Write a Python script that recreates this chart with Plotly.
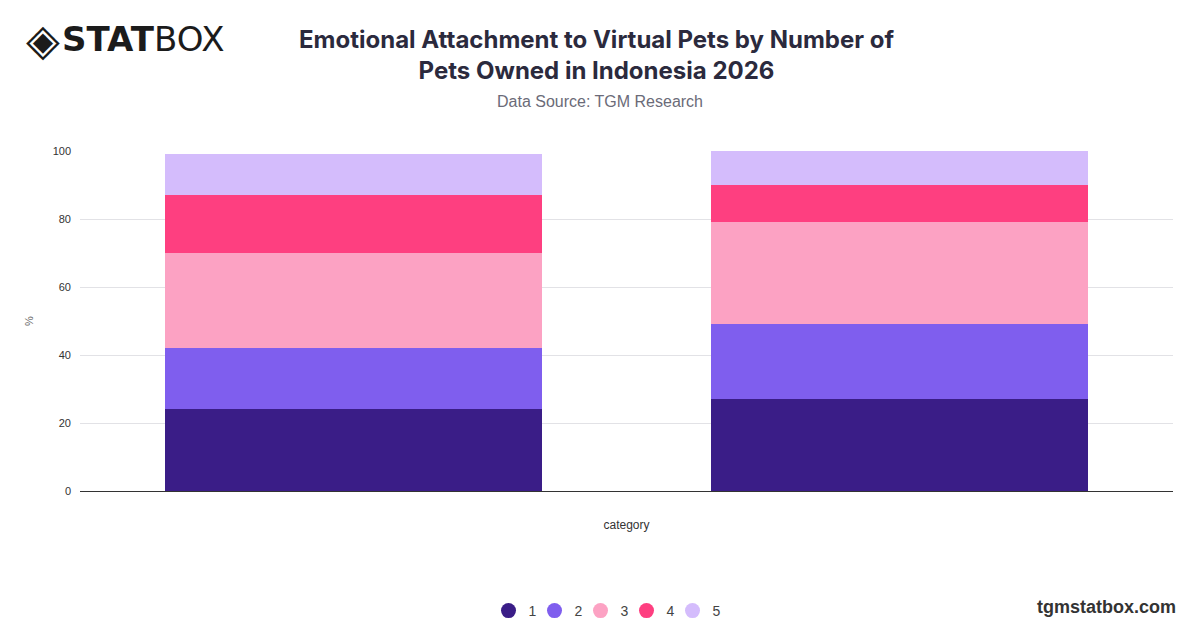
import plotly.graph_objects as go

# data
categories = ["1 pet", "2+ pets"]
levels = ["1", "2", "3", "4", "5"]
share_level1 = [24, 27]
share_level2 = [18, 22]
share_level3 = [28, 30]
share_level4 = [17, 11]
share_level5 = [12, 10]
y_ticks = [0, 20, 40, 60, 80, 100]

series = [share_level1, share_level2, share_level3, share_level4, share_level5]
COLORS = ["#3a1d87", "#7f5eee", "#fca2c3", "#fe3f80", "#d4bcfc"]
TEXT = "#2b2a3d"
SUBTEXT = "#6b6b78"
GRID = "#e2e2e6"

fig = go.Figure()

for name, vals, color in zip(levels, series, COLORS):
    fig.add_trace(go.Bar(
        x=categories, y=vals, name=name,
        marker=dict(color=color, line=dict(width=0)),
        showlegend=False,
        hovertemplate="%{x}<br>" + name + ": %{y}%<extra></extra>",
    ))

# round legend markers
for name, color in zip(levels, COLORS):
    fig.add_trace(go.Scatter(
        x=[None], y=[None], mode="markers", name=name,
        marker=dict(symbol="circle", size=15, color=color),
        hoverinfo="skip",
    ))
# blank spacer entry so the last label isn't clipped by the tight entry width
fig.add_trace(go.Scatter(
    x=[None], y=[None], mode="markers", name=" ",
    marker=dict(size=1, color="rgba(0,0,0,0)", line=dict(width=0)),
    hoverinfo="skip",
))

fig.update_layout(
    barmode="stack",
    bargap=0.31,
    width=1200, height=628,
    paper_bgcolor="white",
    plot_bgcolor="white",
    font=dict(family="Liberation Sans, Arial, sans-serif", color="#333333", size=11),
    margin=dict(t=143, b=145, l=72, r=35, autoexpand=False),
    legend=dict(
        orientation="h", x=0.5, xanchor="center", y=-0.353, yanchor="middle",
        font=dict(size=14, color="#444444"),
        itemwidth=30, traceorder="normal",
        entrywidth=1, entrywidthmode="pixels",
        itemclick=False, itemdoubleclick=False,
    ),
    xaxis=dict(
        title=dict(text="category", font=dict(size=12, color="#333333"), standoff=29),
        showticklabels=False, showgrid=False,
        showline=True, linecolor="#333333", linewidth=1,
        ticks="",
    ),
    yaxis=dict(
        title=dict(text="%", font=dict(size=11, color="#666666"), standoff=16),
        range=[0, 100], tickvals=y_ticks,
        gridcolor=GRID, gridwidth=1, zeroline=False,
        tickfont=dict(size=11, color="#333333"),
        ticks="", ticklen=0, ticklabelstandoff=8,
    ),
)

fig.add_annotation(
    text="<b>Emotional Attachment to Virtual Pets by Number of<br>Pets Owned in Indonesia 2026</b>",
    xref="paper", yref="paper", x=0.5, y=1.0, xanchor="center", yanchor="bottom",
    xshift=-30, yshift=64,
    showarrow=False, align="center",
    font=dict(family="Inter, Roboto, sans-serif", size=24, color=TEXT),
)
fig.add_annotation(
    text="Data Source: TGM Research",
    xref="paper", yref="paper", x=0.5, y=1.0, xanchor="center", yanchor="bottom",
    xshift=-27, yshift=39,
    showarrow=False,
    font=dict(family="Liberation Sans, Arial, sans-serif", size=16, color=SUBTEXT),
)

# logo
fig.add_annotation(
    text="◈",
    xref="paper", yref="paper", x=0, y=1.0, xanchor="left", yanchor="middle",
    xshift=-56, yshift=112,
    showarrow=False,
    font=dict(family="DejaVu Sans, sans-serif", size=44, color="#1b1b1b"),
)
fig.add_annotation(
    text="<b>STAT</b>BOX",
    xref="paper", yref="paper", x=0, y=1.0, xanchor="left", yanchor="middle",
    xshift=-20, yshift=112,
    showarrow=False,
    font=dict(family="DejaVu Sans, sans-serif", size=34, color="#1b1b1b"),
)
fig.add_annotation(
    text="<b>tgmstatbox.com</b>",
    xref="paper", yref="paper", x=1.0, y=0, xanchor="right", yanchor="top",
    xshift=5, yshift=-104,
    showarrow=False,
    font=dict(family="Liberation Sans, Arial, sans-serif", size=18, color="#333333"),
)

fig.write_html("out.html")
